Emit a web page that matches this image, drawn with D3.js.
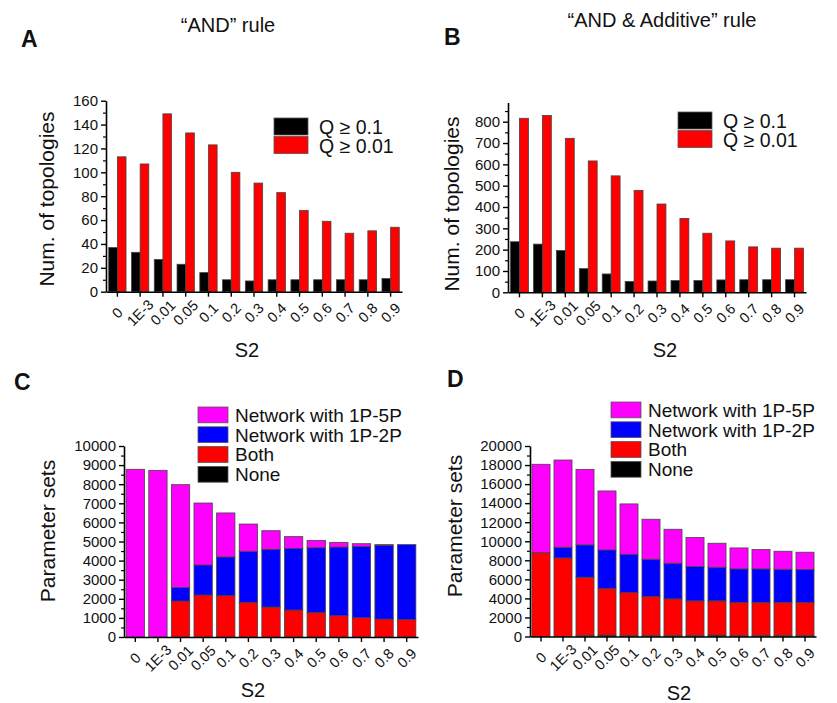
<!DOCTYPE html>
<html>
<head>
<meta charset="utf-8">
<script src="https://cdn.jsdelivr.net/npm/d3@7"></script>
<style>
  body { margin: 0; background: #fff; }
  text { font-family: "Liberation Sans", Arial, sans-serif; fill: #111; }
</style>
</head>
<body>
<div id="chart"></div>
<script>
// S2 values on the x axis (same for all 4 panels)
const categories = ["0", "1E-3", "0.01", "0.05", "0.1", "0.2", "0.3", "0.4", "0.5", "0.6", "0.7", "0.8", "0.9"];

// panel A : "AND" rule, number of topologies
const andQ01 = [37, 33, 27, 23, 16, 10, 9, 10, 10, 10, 10, 10, 11];
const andQ001 = [113, 107, 149, 133, 123, 100, 91, 83, 68, 59, 49, 51, 54];
const ticksA = [0, 20, 40, 60, 80, 100, 120, 140, 160];

// panel B : "AND & Additive" rule
const addQ01 = [237, 226, 196, 111, 86, 51, 53, 55, 55, 58, 59, 59, 59];
const addQ001 = [816, 829, 722, 616, 546, 478, 414, 346, 277, 241, 213, 207, 207];
const ticksB = [0, 100, 200, 300, 400, 500, 600, 700, 800];

// panel C : parameter sets, "AND" rule (stack segments, bottom to top)
const andNone = [0, 0, 0, 0, 0, 0, 0, 0, 0, 0, 0, 0, 0];
const andBoth = [0, 0, 1885, 2200, 2165, 1815, 1570, 1415, 1275, 1115, 1010, 940, 910];
const andP12 = [0, 0, 700, 1570, 2025, 2670, 3020, 3230, 3400, 3595, 3735, 3860, 3925];
const andP15 = [8780, 8725, 5390, 3245, 2305, 1430, 975, 610, 385, 245, 140, 35, 0];
const ticksC = [0, 1000, 2000, 3000, 4000, 5000, 6000, 7000, 8000, 9000, 10000];

// panel D : parameter sets, "AND & Additive" rule
const addNone = [0, 0, 120, 150, 100, 100, 100, 100, 150, 100, 100, 100, 100];
const addBoth = [8800, 8250, 6100, 4890, 4520, 4100, 3850, 3640, 3590, 3470, 3470, 3470, 3470];
const addP12 = [0, 1120, 3400, 4050, 4020, 3910, 3740, 3600, 3530, 3530, 3530, 3490, 3460];
const addP15 = [9280, 9160, 7930, 6190, 5280, 4200, 3570, 3050, 2520, 2200, 2030, 1890, 1820];
const ticksD = [0, 2000, 4000, 6000, 8000, 10000, 12000, 14000, 16000, 18000, 20000];

const qLabels = ["Q \u2265 0.1", "Q \u2265 0.01"];
const qColors = ["#000000", "#ff0000"];
const stackKeys = ["none", "both", "p12", "p15"];
const stackColors = { none: "#000000", both: "#ff0000", p12: "#0000ff", p15: "#ff00ff" };
const stackLegend = [
  ["p15", "Network with 1P-5P"],
  ["p12", "Network with 1P-2P"],
  ["both", "Both"],
  ["none", "None"]
];

const svg = d3.select("#chart").append("svg")
  .attr("width", 837)
  .attr("height", 703);

// draw the axes of one panel
function drawAxes(g, x, y, ticks, minor) {
  // minor y ticks
  g.append("g")
    .attr("transform", `translate(${x.range()[0]},0)`)
    .call(d3.axisLeft(y).tickValues(minor).tickSize(3).tickFormat("").tickSizeOuter(0))
    .call(a => a.select(".domain").remove())
    .selectAll("line").attr("stroke", "#000").attr("stroke-width", 1.2);

  // major y ticks
  const ya = g.append("g")
    .attr("transform", `translate(${x.range()[0]},0)`)
    .call(d3.axisLeft(y).tickValues(ticks).tickFormat(d3.format("d"))
      .tickSize(5).tickPadding(3).tickSizeOuter(0));
  ya.select(".domain").attr("stroke-width", 1.6);
  ya.selectAll("line").attr("stroke-width", 1.4);
  ya.selectAll("text")
    .attr("font-family", "Liberation Sans, Arial, sans-serif")
    .style("font-size", "15px");

  // x axis with rotated labels
  const xa = g.append("g")
    .attr("transform", `translate(0,${y.range()[0]})`)
    .call(d3.axisBottom(x).tickSize(5).tickSizeOuter(0));
  xa.select(".domain").attr("stroke-width", 1.6);
  xa.selectAll("line").attr("stroke-width", 1.4);
  xa.selectAll("text")
    .attr("font-family", "Liberation Sans, Arial, sans-serif")
    .style("font-size", "14.5px")
    .attr("text-anchor", "middle")
    .attr("y", 0)
    .attr("dy", "0.35em")
    .attr("transform", "translate(0,21) rotate(-45)");
}

function drawTexts(p) {
  svg.append("text").attr("x", p.letter[0]).attr("y", p.letter[1])
    .style("font-size", "23px").style("font-weight", "bold").text(p.id);
  if (p.title) {
    svg.append("text").attr("x", p.title[0]).attr("y", p.title[1])
      .attr("text-anchor", "middle").style("font-size", "20px").text(p.titleText);
  }
  svg.append("text")
    .attr("transform", `translate(${p.ylab[0]},${p.ylab[1]}) rotate(-90)`)
    .attr("text-anchor", "middle").style("font-size", "21px").text(p.ylabText);
  svg.append("text").attr("x", p.xlab[0]).attr("y", p.xlab[1])
    .attr("text-anchor", "middle").style("font-size", "20px").text("S2");
}

// grouped bar panel (A and B)
function groupedPanel(p, s1, s2) {
  const g = svg.append("g");
  const x = d3.scaleBand().domain(categories).range([p.x0, p.x1])
    .paddingInner(p.pad).paddingOuter(p.pad / 2);
  const xs = d3.scaleBand().domain([0, 1]).range([0, x.bandwidth()]);
  const y = d3.scaleLinear().domain(p.domain).range([p.y0, p.yTop]);

  const rows = categories.map((c, i) => ({ cat: c, v: [s1[i], s2[i]] }));
  g.append("g").selectAll("g").data(rows).join("g")
    .attr("transform", d => `translate(${x(d.cat)},0)`)
    .selectAll("rect").data(d => d.v).join("rect")
    .attr("x", (d, i) => xs(i))
    .attr("width", xs.bandwidth())
    .attr("y", d => y(d))
    .attr("height", d => y(0) - y(d))
    .attr("fill", (d, i) => qColors[i])
    .attr("stroke", "#444")
    .attr("stroke-width", 0.8);

  drawAxes(g, x, y, p.ticks, p.minor);

  // legend
  qLabels.forEach((lab, i) => {
    g.append("rect").attr("x", p.leg[0]).attr("y", p.leg[1] + i * p.legStep)
      .attr("width", 34).attr("height", p.legStep - 1.5)
      .attr("fill", qColors[i]).attr("stroke", "#555").attr("stroke-width", 0.8);
    g.append("text").attr("x", p.leg[0] + 45).attr("y", p.leg[1] + i * p.legStep + p.legStep - 2.5)
      .style("font-size", "19.5px").text(lab);
  });
  drawTexts(p);
}

// stacked bar panel (C and D)
function stackedPanel(p, none, both, p12, p15) {
  const g = svg.append("g");
  const x = d3.scaleBand().domain(categories).range([p.x0, p.x1])
    .paddingInner(p.pad).paddingOuter(p.pad / 2);
  const y = d3.scaleLinear().domain(p.domain).range([p.y0, p.yTop]);

  const rows = categories.map((c, i) => ({ cat: c, none: none[i], both: both[i], p12: p12[i], p15: p15[i] }));
  const series = d3.stack().keys(stackKeys)(rows);

  g.append("g").selectAll("g").data(series).join("g")
    .attr("fill", d => stackColors[d.key])
    .selectAll("rect").data(d => d).join("rect")
    .attr("x", d => x(d.data.cat))
    .attr("width", x.bandwidth())
    .attr("y", d => y(d[1]))
    .attr("height", d => y(d[0]) - y(d[1]))
    .attr("stroke", "#444")
    .attr("stroke-width", d => (d[1] - d[0]) > 0 ? 0.8 : 0);

  drawAxes(g, x, y, p.ticks, p.minor);

  stackLegend.forEach(([key, lab], i) => {
    g.append("rect").attr("x", p.leg[0]).attr("y", p.leg[1] + i * p.legStep)
      .attr("width", 30).attr("height", p.legStep - 4)
      .attr("fill", stackColors[key]).attr("stroke", "#555").attr("stroke-width", 0.8);
    g.append("text").attr("x", p.leg[0] + 37).attr("y", p.leg[1] + i * p.legStep + p.legStep - 5)
      .style("font-size", "19px").text(lab);
  });
  drawTexts(p);
}

groupedPanel({
  id: "A", letter: [21, 47], title: [228, 32], titleText: "\u201CAND\u201D rule",
  ylab: [54, 199], ylabText: "Num. of topologies", xlab: [247, 357],
  x0: 106, x1: 402, y0: 291.7, yTop: 100.7, domain: [0, 160], pad: 0.24,
  ticks: ticksA, minor: d3.range(10, 160, 20),
  leg: [274, 118], legStep: 18.5
}, andQ01, andQ001);

groupedPanel({
  id: "B", letter: [444, 45], title: [662, 27], titleText: "\u201CAND & Additive\u201D rule",
  ylab: [459, 204], ylabText: "Num. of topologies", xlab: [665, 357],
  x0: 508, x1: 806, y0: 292.3, yTop: 102.5, domain: [0, 890], pad: 0.22,
  ticks: ticksB, minor: d3.range(50, 890, 100),
  leg: [678, 112], legStep: 18.5
}, addQ01, addQ001);

stackedPanel({
  id: "C", letter: [14, 390],
  ylab: [55, 531], ylabText: "Parameter sets", xlab: [253, 697],
  x0: 124, x1: 418, y0: 637, yTop: 446, domain: [0, 10000], pad: 0.19,
  ticks: ticksC, minor: d3.range(500, 10000, 1000),
  leg: [198, 407], legStep: 19.8
}, andNone, andBoth, andP12, andP15);

stackedPanel({
  id: "D", letter: [447, 387],
  ylab: [462, 526], ylabText: "Parameter sets", xlab: [679, 700],
  x0: 530, x1: 816, y0: 636.5, yTop: 446, domain: [0, 20000], pad: 0.18,
  ticks: ticksD, minor: d3.range(1000, 20000, 2000),
  leg: [611, 402], legStep: 19.8
}, addNone, addBoth, addP12, addP15);
</script>
</body>
</html>
